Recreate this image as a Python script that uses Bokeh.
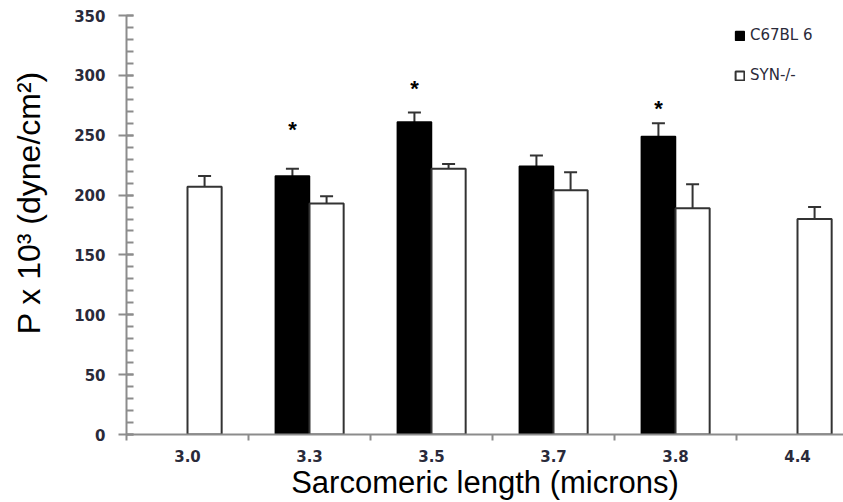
from bokeh.plotting import figure
from bokeh.models import (ColumnDataSource, Range1d, FixedTicker, Whisker, TeeHead,
                          Legend, LegendItem, CustomJSTickFormatter)
from bokeh.core.properties import value
from bokeh.embed import file_html
from bokeh.resources import INLINE

# ---- data ----
categories = ["3.0", "3.3", "3.5", "3.7", "3.8", "4.4"]
c57_values = [None, 216, 261, 224, 249, None]
c57_errors = [None, 6, 8, 9, 11, None]
syn_values = [207, 193, 222, 204, 189, 180]
syn_errors = [9, 6, 4, 15, 20, 10]
sig_categories = ["3.3", "3.5", "3.8"]
sig_heights = [255, 289, 272]
series_names = ["C67BL 6", "SYN-/-"]

BAR_W = 0.28
OFF = 0.14

idx = {c: i for i, c in enumerate(categories)}
bx = [idx[c] + 0.5 - OFF for c, v in zip(categories, c57_values) if v is not None]
bv = [v for v in c57_values if v is not None]
be = [e for e in c57_errors if e is not None]
black_src = ColumnDataSource(dict(x=bx, top=bv, upper=[v + e for v, e in zip(bv, be)]))
wx = [idx[c] + 0.5 + OFF for c in categories]
white_src = ColumnDataSource(dict(x=wx, top=syn_values,
                                  upper=[v + e for v, e in zip(syn_values, syn_errors)]))

p = figure(width=843, height=502, output_backend="svg", toolbar_location=None,
           x_range=Range1d(0, 5.877), y_range=Range1d(0, 350),
           min_border_left=126, min_border_right=0, min_border_top=15,
           min_border_bottom=68, outline_line_color=None)
p.xgrid.visible = False
p.ygrid.visible = False
p.background_fill_color = "white"

rb = p.vbar(x="x", top="top", width=BAR_W, bottom=0, source=black_src,
            fill_color="black", line_color="black", line_width=1.5)
rw = p.vbar(x="x", top="top", width=BAR_W, bottom=0, source=white_src,
            fill_color="white", line_color="#333333", line_width=2)

for src in (black_src, white_src):
    w = Whisker(base="x", lower="top", upper="upper", source=src,
                line_color="#333333", line_width=2,
                upper_head=TeeHead(size=13, line_color="#333333", line_width=2),
                lower_head=None)
    p.add_layout(w)

sx = [idx[c] + 0.5 - OFF for c in sig_categories]
p.text(x=sx, y=sig_heights, text=["*"] * len(sx), text_align="center",
       text_baseline="middle", text_font_size="22px", text_color="black",
       text_font=value("Liberation Sans"), text_font_style="bold")

# y axis
ya = p.yaxis[0]
ya.ticker = FixedTicker(ticks=list(range(0, 351, 50)),
                        minor_ticks=list(range(0, 351, 10)))
ya.axis_line_color = "#8c8c8c"
ya.axis_line_width = 2
ya.major_tick_line_color = "#8c8c8c"
ya.major_tick_line_width = 2
ya.major_tick_out = 8
ya.major_tick_in = 7
ya.minor_tick_line_color = "#8c8c8c"
ya.minor_tick_line_width = 2
ya.minor_tick_out = 0
ya.minor_tick_in = 7
ya.major_label_text_font = "DejaVu Sans"
ya.major_label_text_font_style = "bold"
ya.major_label_text_font_size = "15px"
ya.major_label_text_color = "#2a2a3a"
ya.major_label_standoff = 13
ya.axis_label = "\u00a0\u00a0\u00a0\u00a0\u00a0P x 10³ (dyne/cm²)"
ya.axis_label_text_font = "Liberation Sans"
ya.axis_label_text_font_style = "normal"
ya.axis_label_text_font_size = "32px"
ya.axis_label_text_color = "black"
ya.axis_label_standoff = 24

# x axis
xa = p.xaxis[0]
xa.ticker = FixedTicker(ticks=[i + 0.5 for i in range(len(categories))],
                        minor_ticks=list(range(0, len(categories) + 1)))
xa.formatter = CustomJSTickFormatter(args=dict(labels=categories),
                                     code="return labels[Math.floor(tick)];")
xa.axis_line_color = "#8c8c8c"
xa.axis_line_width = 2
xa.major_tick_line_color = None
xa.major_tick_out = 0
xa.major_tick_in = 0
xa.minor_tick_line_color = "#8c8c8c"
xa.minor_tick_line_width = 2
xa.minor_tick_out = 6
xa.minor_tick_in = 0
xa.major_label_text_font = "DejaVu Sans"
xa.major_label_text_font_style = "bold"
xa.major_label_text_font_size = "15px"
xa.major_label_text_color = "#2a2a3a"
xa.major_label_standoff = 9
xa.axis_label = "Sarcomeric length (microns)"
xa.axis_label_text_font = "Liberation Sans"
xa.axis_label_text_font_style = "normal"
xa.axis_label_text_font_size = "31px"
xa.axis_label_text_color = "black"
xa.axis_label_standoff = 0

legend = Legend(items=[LegendItem(label=series_names[0], renderers=[rb]),
                       LegendItem(label=series_names[1], renderers=[rw])],
                location=(608, 350), orientation="vertical",
                glyph_width=11, glyph_height=11, label_height=16,
                label_standoff=5, spacing=22, padding=0, margin=0,
                border_line_alpha=0, background_fill_alpha=0,
                label_text_font="DejaVu Sans", label_text_font_size="15px",
                label_text_color="#2a2a3a")
p.add_layout(legend)

open("out.html", "w").write(file_html(p, INLINE))
